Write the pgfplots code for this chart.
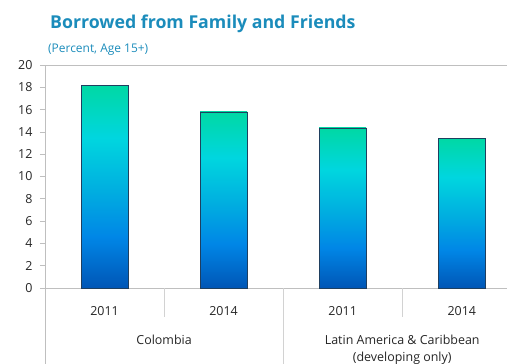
\documentclass[border=0pt]{standalone}
\usepackage{pgfplots}
\pgfplotsset{compat=1.18}
\usepackage{fontspec}
\setmainfont{Open Sans}
\definecolor{titleblue}{HTML}{1B8CBB}
\definecolor{txt}{HTML}{262626}
\definecolor{axgray}{HTML}{BFBFBF}
\definecolor{barline}{HTML}{1F3F5F}
\definecolor{s1}{HTML}{0056B6}
\definecolor{s2}{HTML}{0086E6}
\definecolor{s3}{HTML}{00AEE0}
\definecolor{s4}{HTML}{00D6DF}
\definecolor{s5}{HTML}{00D8A4}
\pgfdeclareverticalshading{barshade}{100bp}{color(0bp)=(s1); color(25bp)=(s1); color(37.5bp)=(s2); color(49bp)=(s3); color(62bp)=(s4); color(75bp)=(s5); color(100bp)=(s5)}
\begin{document}
\begin{tikzpicture}
\clip (-45bp,-76bp) rectangle (462bp,288bp);
\node[anchor=base west, text=titleblue, font=\bfseries\fontsize{17.8}{20}\selectfont, inner sep=0pt] at (5bp,259bp) {Borrowed from Family and Friends};
\node[anchor=base west, text=titleblue, font=\fontsize{12}{14}\selectfont, inner sep=0pt] at (3bp,235bp) {(Percent, Age 15+)};
\begin{axis}[
  at={(0,0)}, anchor=south west,
  scale only axis, width=462bp, height=223bp,
  xmin=-0.5, xmax=3.38, ymin=0, ymax=20,
  axis x line*=bottom, axis y line*=left,
  axis line style={-, draw=axgray, line width=0.8bp},
  ytick={0,2,...,20},
  xtick={0,1,2,3},
  xticklabels={2011,2014,2011,2014},
  x tick style={draw=none},
  y tick style={draw=axgray, line width=0.8bp},
  tick align=outside,
  major tick length=5bp,
  /pgf/number format/assume math mode=true,
  ticklabel style={font=\fontsize{12.5}{14}\selectfont, text=txt},
  xticklabel style={yshift=-10bp},
  yticklabel style={xshift=-4bp},
  clip=false,
]
\addplot[ybar, bar width=47bp, bar shift=0pt, draw=barline, line width=0.6bp, shading=barshade] coordinates {(0,18.2)};
\addplot[ybar, bar width=47bp, bar shift=0pt, draw=barline, line width=0.6bp, shading=barshade] coordinates {(1,15.8)};
\addplot[ybar, bar width=47bp, bar shift=0pt, draw=barline, line width=0.6bp, shading=barshade] coordinates {(2,14.35)};
\addplot[ybar, bar width=47bp, bar shift=0pt, draw=barline, line width=0.6bp, shading=barshade] coordinates {(3,13.45)};
\draw[axgray, line width=0.8bp] (axis cs:-0.5,20) -- (axis cs:3.38,20);
\draw[axgray, line width=0.8bp] (axis cs:-0.5,0) -- ([yshift=-80bp]axis cs:-0.5,0);
\draw[axgray!70, line width=0.8bp] (axis cs:0.5,0) -- ([yshift=-29bp]axis cs:0.5,0);
\draw[axgray!70, line width=0.8bp] (axis cs:2.5,0) -- ([yshift=-29bp]axis cs:2.5,0);
\draw[axgray!70, line width=0.8bp] (axis cs:1.5,0) -- ([yshift=-80bp]axis cs:1.5,0);
\node[anchor=base, text=txt, font=\fontsize{12.5}{14}\selectfont, inner sep=0pt] at ([yshift=-56bp]axis cs:0.5,0) {Colombia};
\node[anchor=base, text=txt, font=\fontsize{12.5}{14}\selectfont, inner sep=0pt] at ([yshift=-56bp]axis cs:2.5,0) {Latin America \& Caribbean};
\node[anchor=base, text=txt, font=\fontsize{12.5}{14}\selectfont, inner sep=0pt] at ([yshift=-73bp]axis cs:2.5,0) {(developing only)};
\end{axis}
\end{tikzpicture}
\end{document}
